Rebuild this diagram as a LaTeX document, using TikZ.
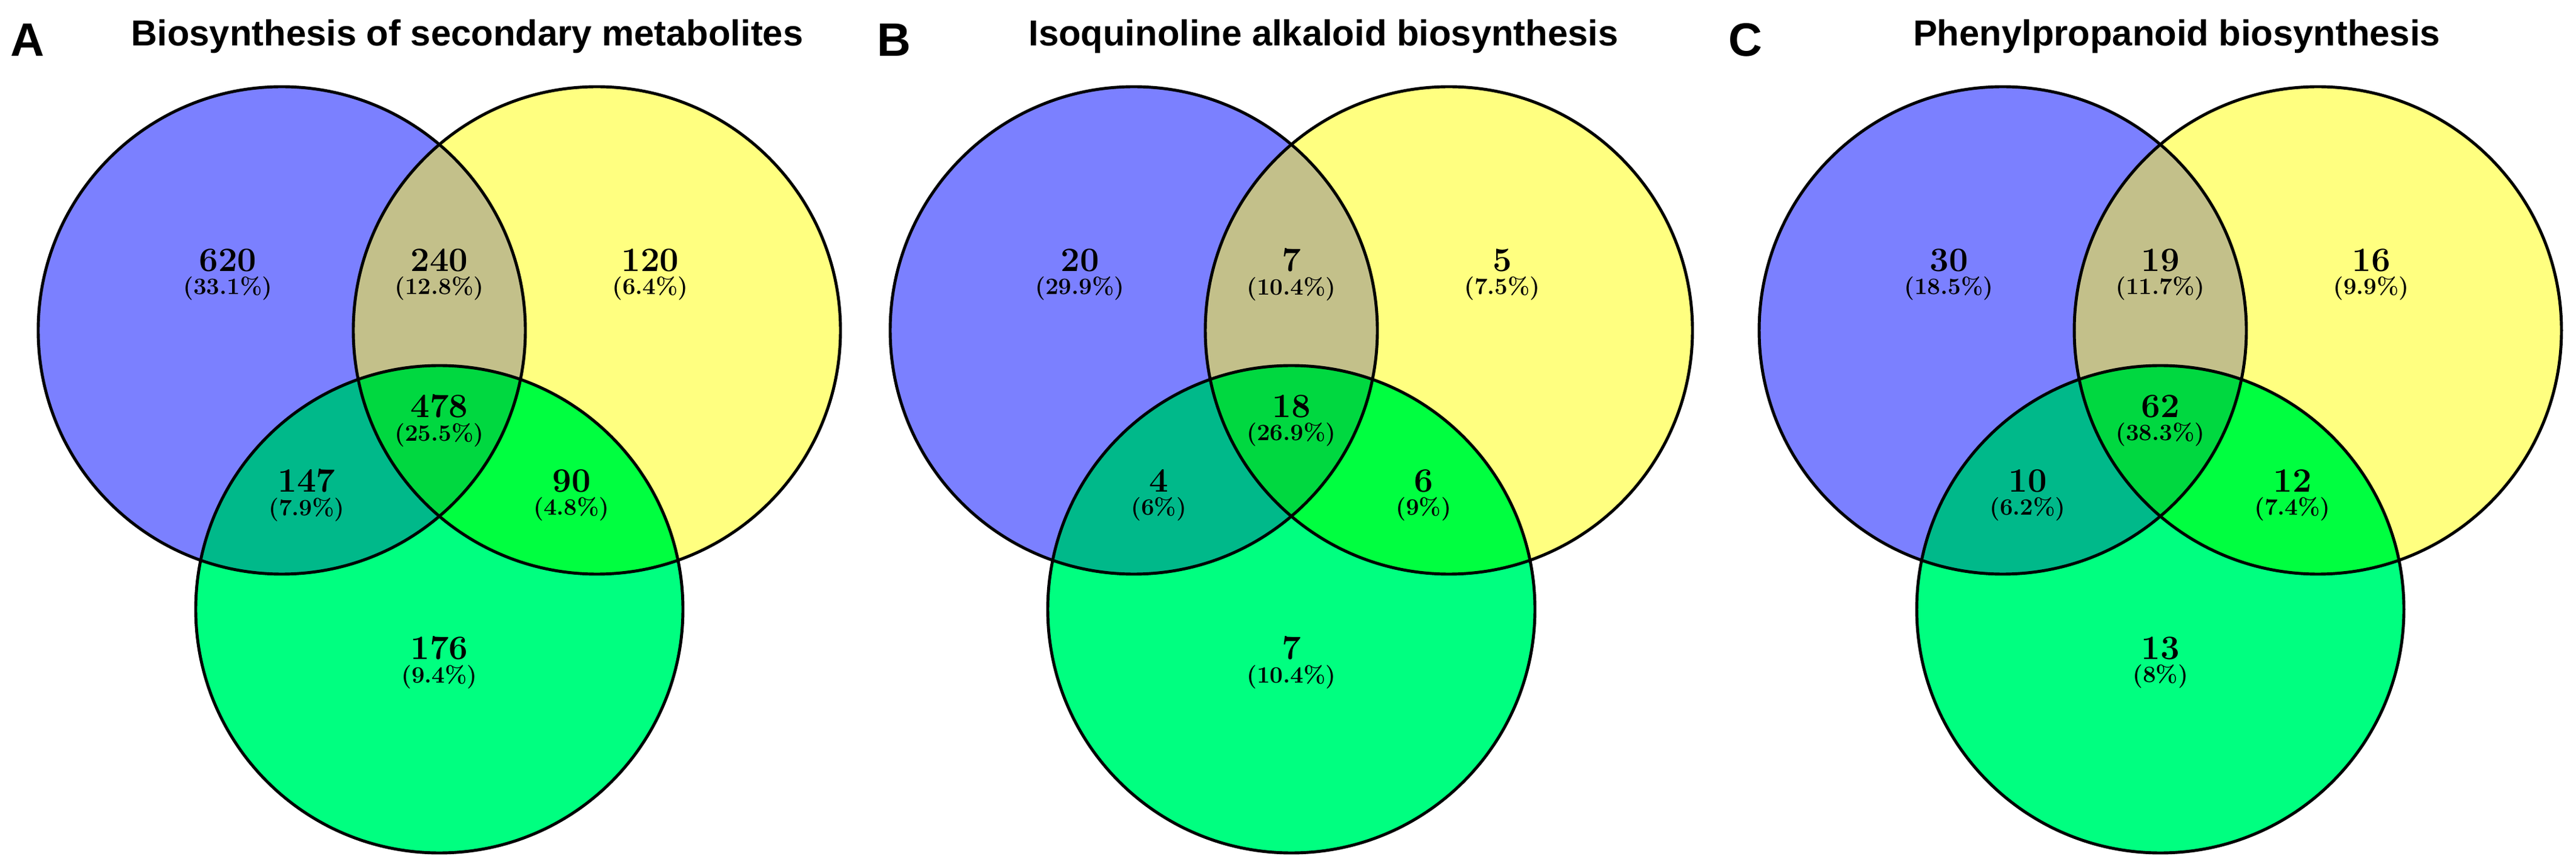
\documentclass[tikz,border=0pt]{standalone}
\usepackage{fontspec}
\newfontfamily\headfont{Liberation Sans}
\usetikzlibrary{positioning}

\definecolor{cB}{RGB}{123,128,255}
\definecolor{cY}{RGB}{255,255,128}
\definecolor{cG}{RGB}{0,255,128}
\definecolor{cBY}{RGB}{195,192,138}
\definecolor{cBG}{RGB}{0,185,138}
\definecolor{cYG}{RGB}{0,255,64}
\definecolor{cBYG}{RGB}{0,216,64}

\tikzset{
  count/.style={align=center, inner sep=0pt, font=\bfseries},
  ring/.style={draw=black, line width=1.4pt},
  heading/.style={font=\headfont\bfseries\fontsize{17}{20}\selectfont},
  tag/.style={font=\headfont\bfseries\fontsize{22}{24}\selectfont}
}

% one set of three circles, shifted by #1
\newcommand{\vennrings}[1]{%
  \coordinate (#1-b) at (4.65,8.66);
  \coordinate (#1-y) at (9.85,8.66);
  \coordinate (#1-g) at (7.25,4.06);
  \fill[cB] (#1-b) circle (4.02);
  \fill[cY] (#1-y) circle (4.02);
  \fill[cG] (#1-g) circle (4.02);
  \begin{scope}
    \clip (#1-y) circle (4.02);
    \fill[cYG] (#1-g) circle (4.02);
  \end{scope}
  \begin{scope}
    \clip (#1-b) circle (4.02);
    \fill[cBY] (#1-y) circle (4.02);
    \fill[cBG] (#1-g) circle (4.02);
    \clip (#1-y) circle (4.02);
    \fill[cBYG] (#1-g) circle (4.02);
  \end{scope}
  \draw[ring] (#1-b) circle (4.02);
  \draw[ring] (#1-y) circle (4.02);
  \draw[ring] (#1-g) circle (4.02);
}
\newcommand{\region}[4]{%
  \node[count] (#1) at (#2) {\fontsize{16}{16}\selectfont #3\\[-1pt]\fontsize{11}{11}\selectfont(#4\%)};
}

\begin{document}
\begin{tikzpicture}
  \useasboundingbox (0,0) rectangle (42.51,14.11);

  % panel A
  \begin{scope}
    \vennrings{A}
    \node[tag] (A-tag) at (0.45,13.45) {A};
    \node[heading] (A-title) at (7.71,13.51) {Biosynthesis of secondary metabolites};
    \region{A-b}{3.76,9.58}{620}{33.1}
    \region{A-by}{7.25,9.58}{240}{12.8}
    \region{A-y}{10.73,9.58}{120}{6.4}
    \region{A-byg}{7.25,7.17}{478}{25.5}
    \region{A-bg}{5.06,5.94}{147}{7.9}
    \region{A-yg}{9.43,5.94}{90}{4.8}
    \region{A-g}{7.25,3.18}{176}{9.4}
  \end{scope}

  % panel B
  \begin{scope}[xshift=14.06cm]
    \vennrings{B}
    \node[tag] (B-tag) at (0.69,13.45) {B};
    \node[heading] (B-title) at (7.78,13.51) {Isoquinoline alkaloid biosynthesis};
    \region{B-b}{3.76,9.58}{20}{29.9}
    \region{B-by}{7.25,9.58}{7}{10.4}
    \region{B-y}{10.73,9.58}{5}{7.5}
    \region{B-byg}{7.25,7.17}{18}{26.9}
    \region{B-bg}{5.06,5.94}{4}{6}
    \region{B-yg}{9.43,5.94}{6}{9}
    \region{B-g}{7.25,3.18}{7}{10.4}
  \end{scope}

  % panel C
  \begin{scope}[xshift=28.40cm]
    \vennrings{C}
    \node[tag] (C-tag) at (0.40,13.45) {C};
    \node[heading] (C-title) at (7.52,13.51) {Phenylpropanoid biosynthesis};
    \region{C-b}{3.76,9.58}{30}{18.5}
    \region{C-by}{7.25,9.58}{19}{11.7}
    \region{C-y}{10.73,9.58}{16}{9.9}
    \region{C-byg}{7.25,7.17}{62}{38.3}
    \region{C-bg}{5.06,5.94}{10}{6.2}
    \region{C-yg}{9.43,5.94}{12}{7.4}
    \region{C-g}{7.25,3.18}{13}{8}
  \end{scope}
\end{tikzpicture}
\end{document}
